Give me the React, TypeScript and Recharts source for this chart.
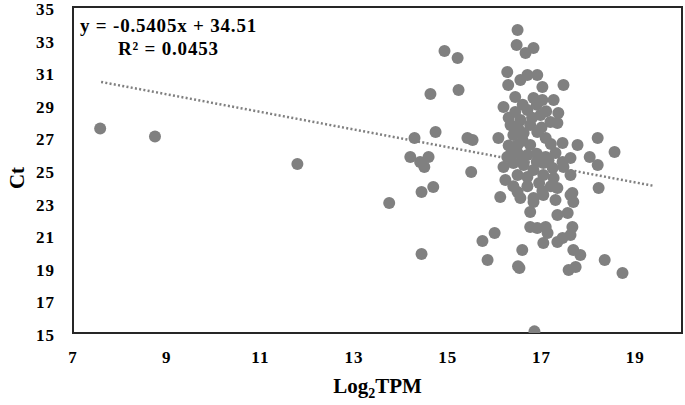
import React from 'react';
import {
  ScatterChart, Scatter, XAxis, YAxis, ReferenceLine, ReferenceArea,
} from 'recharts';

// Log2TPM vs Ct
const points: [number, number][] = [
  [7.58, 27.55], [8.75, 27.05], [11.79, 25.37], [13.75, 22.98],
  [14.2, 25.8], [14.29, 26.96], [14.74, 27.33], [14.63, 29.66], [14.93, 32.3],
  [14.41, 25.49], [14.59, 25.8], [14.5, 25.18], [14.69, 23.96], [14.44, 23.65],
  [14.44, 19.85], [15.21, 31.87], [15.23, 29.91], [15.42, 26.96], [15.53, 26.84],
  [15.5, 24.88],
  [16.49, 33.59], [16.47, 32.67], [16.66, 32.18], [16.83, 32.48], [16.27, 31.01],
  [16.29, 30.21], [16.55, 30.52], [16.7, 30.83], [16.91, 30.83], [17.02, 30.09],
  [17.47, 30.21],
  [16.44, 29.48], [16.83, 29.42], [17.02, 29.29], [17.26, 29.29],
  [16.19, 28.87], [16.44, 28.56], [16.7, 28.68], [16.98, 28.37], [17.36, 28.5],
  [17.19, 27.94], [17.34, 27.88],
  [16.34, 27.76], [16.55, 28.07], [16.76, 27.76],
  [16.4, 27.15], [16.62, 27.27], [16.91, 27.33], [17.09, 26.96],
  [16.08, 26.96], [17.77, 26.53], [17.45, 26.66],
  [16.49, 26.53], [16.76, 26.53],
  [16.27, 25.8], [16.49, 26.04], [16.7, 25.92],
  [17.09, 25.8], [17.3, 26.04], [17.62, 25.74], [17.45, 25.49], [18.03, 25.8],
  [16.19, 25.18], [16.4, 25.43], [16.62, 25.31], [16.83, 25.0],
  [17.04, 25.43], [17.24, 25.12], [17.47, 25.18], [17.62, 24.69],
  [16.23, 24.39], [16.49, 24.69], [16.7, 24.57], [17.04, 24.69], [17.26, 24.51],
  [17.34, 23.9], [17.62, 23.47], [17.68, 23.04],
  [16.12, 23.34], [16.49, 23.65], [16.55, 23.28], [16.83, 23.28], [17.04, 23.47],
  [16.3, 26.5], [16.6, 26.8], [16.9, 26.0], [17.2, 26.6], [16.5, 27.6],
  [16.8, 28.2], [17.0, 27.6], [16.3, 28.2], [16.6, 29.0], [16.9, 29.0],
  [17.1, 28.6], [16.4, 24.0], [16.7, 24.0], [16.95, 24.2], [17.2, 24.0],
  [16.6, 25.6], [16.9, 25.5], [17.15, 25.6], [16.35, 26.0],
  [18.2, 26.96], [18.2, 25.31], [18.22, 23.9], [18.56, 26.1], [18.35, 19.48],
  [18.73, 18.68],
  [17.02, 23.71], [16.76, 22.42], [16.83, 23.04], [16.76, 21.5], [16.91, 21.44],
  [17.09, 21.5], [17.04, 20.52], [17.13, 21.13], [17.34, 20.58], [17.45, 20.83],
  [17.62, 21.01], [17.66, 21.5], [17.34, 22.24], [17.56, 22.36], [17.68, 20.09],
  [17.83, 19.79], [17.73, 19.05], [17.58, 18.87], [16.59, 20.09], [16.53, 18.99],
  [16.5, 19.1], [15.74, 20.64], [16.0, 21.13], [15.85, 19.48], [16.85, 15.1],
  [17.3, 23.16], [17.66, 23.59],
];

const xTicks = [7, 9, 11, 13, 15, 17, 19];
const yTicks = [15, 17, 19, 21, 23, 25, 27, 29, 31, 33, 35];

// linear trend shown on the chart
const slope = -0.5405;
const intercept = 34.51;
const trendX = [7.6, 19.4];

const data = points.map(([x, y]) => ({ x, y }));
const trend = trendX.map((x) => ({ x, y: slope * x + intercept }));

const FONT = '"Liberation Serif", "Times New Roman", serif';
const DOT = '#808080';

const XTitle = (props: any) => {
  const vb = props.viewBox || { x: 73, width: 609 };
  return (
    <text x={vb.x + vb.width / 2} y={393} textAnchor="middle" fontFamily={FONT} fontWeight="bold" fontSize={21} fill="#000">
      <tspan>Log</tspan>
      <tspan fontSize={14} dy={5}>2</tspan>
      <tspan dy={-5}>TPM</tspan>
    </text>
  );
};

const YTitle = () => (
  <text x={17} y={178} transform="rotate(-90, 17, 178)" textAnchor="middle" dominantBaseline="central"
    fontFamily={FONT} fontWeight="bold" fontSize={21} fill="#000">Ct</text>
);

const YTick = (p: any) => (
  <text x={p.x} y={p.y + 2} dy="0.355em" textAnchor="end" fontFamily={FONT} fontWeight="bold"
    fontSize={17} letterSpacing={1} fill="#000">{p.payload.value}</text>
);

const Dot = (p: any) => <circle cx={p.cx} cy={p.cy} r={6} fill={DOT} />;

export default function App() {
  const tick = { fontFamily: FONT, fontWeight: 'bold', fontSize: 17, fill: '#000', letterSpacing: 1 };
  return (
    <div style={{ position: 'absolute', left: 0, top: 0, width: 685, height: 405, background: '#fff' }}>
      <ScatterChart width={685} height={405} margin={{ top: 7, right: 3, bottom: 0, left: 0 }}>
        <XAxis type="number" dataKey="x" domain={[7, 20]} ticks={xTicks} allowDataOverflow
          height={72} tickSize={0} tickMargin={18} tick={tick}
          axisLine={{ stroke: '#262626', strokeWidth: 2 }} label={<XTitle />} />
        <YAxis type="number" dataKey="y" domain={[15, 35]} ticks={yTicks} allowDataOverflow
          width={73} tickSize={0} tickMargin={18} tick={<YTick />} interval={0}
          axisLine={{ stroke: '#262626', strokeWidth: 2 }} label={<YTitle />} />
        <ReferenceArea x1={7} x2={20} y1={15} y2={35} fill="none" stroke="#262626" strokeWidth={2} ifOverflow="visible" />
        <ReferenceLine segment={trend} stroke={DOT} strokeWidth={2.5} strokeDasharray="2 2.3" ifOverflow="visible" />
        <Scatter data={data} fill={DOT} shape={<Dot />} isAnimationActive={false} />
      </ScatterChart>
      <svg width={685} height={405} style={{ position: 'absolute', left: 0, top: 0, pointerEvents: 'none' }}>
        <text x={80} y={32} fontFamily={FONT} fontWeight="bold" fontSize={19} letterSpacing={0.8} fill="#000">y = -0.5405x + 34.51</text>
        <text x={118} y={55} fontFamily={FONT} fontWeight="bold" fontSize={19} letterSpacing={0.8} fill="#000">R² = 0.0453</text>
      </svg>
    </div>
  );
}
